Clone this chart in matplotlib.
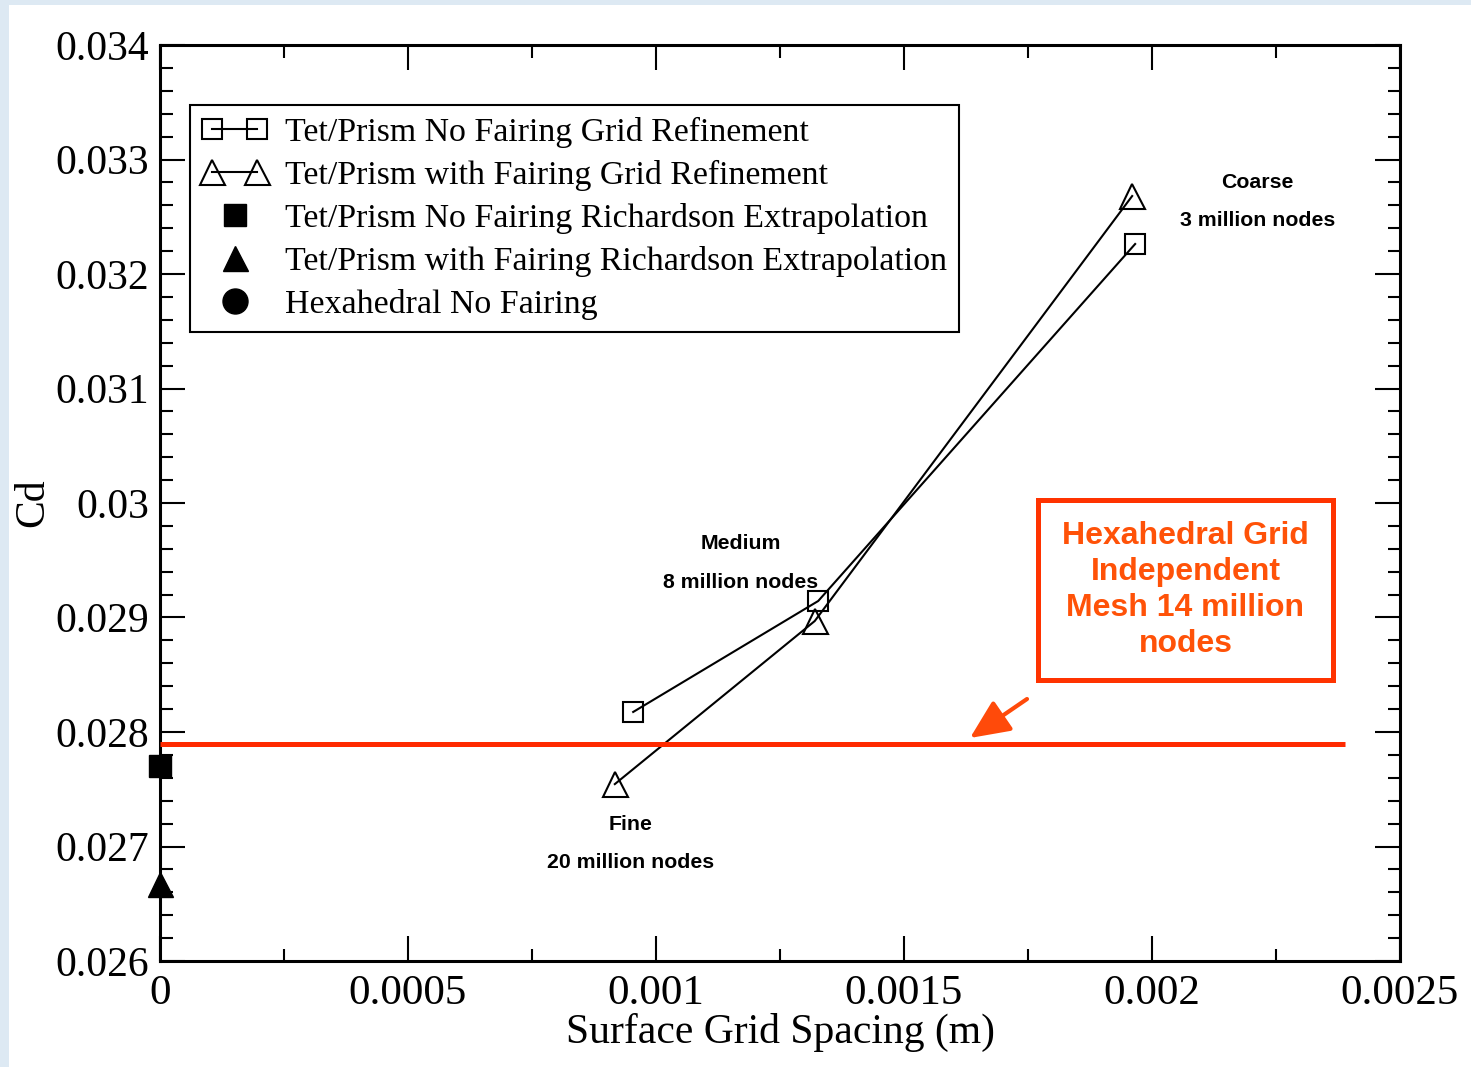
import matplotlib
matplotlib.use("Agg")
import matplotlib.pyplot as plt
from matplotlib.legend_handler import HandlerLine2D
from matplotlib.patches import Rectangle
from matplotlib.ticker import MultipleLocator

# ---- data ----
no_fairing_x = [0.000954, 0.001327, 0.001966]
no_fairing_cd = [0.028175, 0.029144, 0.032262]
with_fairing_x = [0.000917, 0.001320, 0.001960]
with_fairing_cd = [0.027545, 0.028969, 0.032681]
rich_no_fairing = (0.0, 0.02770)
rich_with_fairing = (0.0, 0.02667)
hex_cd = 0.027895
hex_x_range = [0.0, 0.002389]

series_labels = [
    "Tet/Prism No Fairing Grid Refinement",
    "Tet/Prism with Fairing Grid Refinement",
    "Tet/Prism No Fairing Richardson Extrapolation",
    "Tet/Prism with Fairing Richardson Extrapolation",
    "Hexahedral No Fairing",
]
point_notes = [
    (0.002212, 0.032795, "Coarse"),
    (0.002212, 0.032463, "3 million nodes"),
    (0.001171, 0.029642, "Medium"),
    (0.001171, 0.029310, "8 million nodes"),
    (0.000948, 0.027188, "Fine"),
    (0.000948, 0.026856, "20 million nodes"),
]
box_text = "Hexahedral Grid\nIndependent\nMesh 14 million\nnodes"
x_tick_vals = [0, 0.0005, 0.001, 0.0015, 0.002, 0.0025]
x_tick_labels = ["0", "0.0005", "0.001", "0.0015", "0.002", "0.0025"]
y_tick_vals = [0.026, 0.027, 0.028, 0.029, 0.03, 0.031, 0.032, 0.033, 0.034]
y_tick_labels = ["0.026", "0.027", "0.028", "0.029", "0.03", "0.031", "0.032", "0.033", "0.034"]

W, H = 1471, 1067
fig = plt.figure(figsize=(W / 100, H / 100), dpi=100, facecolor="#dde9f3")
fig.patches.append(Rectangle((9 / W, 0), 1, 1 - 5 / H, transform=fig.transFigure,
                             facecolor="white", edgecolor="none", zorder=-10))
ax = fig.add_axes([160 / W, 1 - 961 / H, 1240 / W, 916 / H])
ax.set_facecolor("white")

serif = "Liberation Serif"
sans = "Liberation Sans"

lw = 1.5
ms = 15
l1, = ax.plot(no_fairing_x, no_fairing_cd, color="black", lw=lw, marker="s", ms=ms,
              mfc="none", mec="black", mew=1.5, label=series_labels[0])
l2, = ax.plot(with_fairing_x, with_fairing_cd, color="black", lw=lw, marker="^", ms=ms + 3,
              mfc="none", mec="black", mew=1.5, label=series_labels[1])
l3, = ax.plot([rich_no_fairing[0]], [rich_no_fairing[1]], ls="none", marker="s", ms=ms + 1,
              color="black", clip_on=False, zorder=5, label=series_labels[2])
l4, = ax.plot([rich_with_fairing[0]], [rich_with_fairing[1]], ls="none", marker="^", ms=ms + 3,
              color="black", clip_on=False, zorder=5, label=series_labels[3])
l5, = ax.plot([], [], ls="none", marker="o", ms=ms + 3, color="black", label=series_labels[4])

ax.plot(hex_x_range, [hex_cd, hex_cd], color="#ff2a00", lw=3.6, solid_capstyle="butt", zorder=4)

ax.set_xlim(0, 0.0025)
ax.set_ylim(0.026, 0.034)
ax.xaxis.set_minor_locator(MultipleLocator(0.00025))
ax.yaxis.set_minor_locator(MultipleLocator(0.0002))
ax.set_xticks(x_tick_vals)
ax.set_xticklabels(x_tick_labels, family=serif, fontsize=31)
ax.set_yticks(y_tick_vals)
ax.set_yticklabels(y_tick_labels, family=serif, fontsize=30)
ax.tick_params(which="both", direction="in", top=True, right=True, width=1.5)
ax.tick_params(which="major", length=18)
ax.tick_params(axis="y", which="major", pad=8)
ax.tick_params(axis="x", which="major", pad=10)
ax.tick_params(which="minor", length=9)
for s in ax.spines.values():
    s.set_linewidth(2.2)

ax.set_xlabel("Surface Grid Spacing (m)", fontsize=30, family=serif, labelpad=0)
ax.set_ylabel("Cd", fontsize=30, family=serif, labelpad=2)

leg = ax.legend(handles=[l1, l2, l3, l4, l5], loc="upper left", bbox_to_anchor=(0.024, 0.935),
                prop={"family": serif, "size": 24.4}, frameon=True, fancybox=False,
                edgecolor="black", framealpha=1, borderpad=0.36, labelspacing=0.357,
                handlelength=1.93, handletextpad=0.52, borderaxespad=0,
                handler_map={l1: HandlerLine2D(numpoints=2), l2: HandlerLine2D(numpoints=2),
                             l3: HandlerLine2D(numpoints=1), l4: HandlerLine2D(numpoints=1),
                             l5: HandlerLine2D(numpoints=1)})
leg.get_frame().set_linewidth(1.5)

for x, y, t in point_notes:
    ax.text(x, y, t, ha="center", va="center", fontsize=15.3, fontweight="bold", family=sans)

# red annotation box
bx0, by0 = (1038 - 160) / 496000, 0.026 + (961 - 680) / 114500
bx1, by1 = (1333 - 160) / 496000, 0.026 + (961 - 500) / 114500
ax.add_patch(Rectangle((bx0, by0), bx1 - bx0, by1 - by0, fill=False, edgecolor="#ff3300",
                       lw=3.6, zorder=5))
ax.text((bx0 + bx1) / 2, (by0 + by1) / 2, box_text, ha="center", va="center",
        fontsize=23, fontweight="bold", family=sans, color="#ff5208", linespacing=1.27)
ax.annotate("", xy=((970 - 160) / 496000, 0.026 + (961 - 738) / 114500),
            xytext=((1027 - 160) / 496000, 0.026 + (961 - 699) / 114500),
            arrowprops=dict(arrowstyle="-|>,head_length=1.1,head_width=0.5", color="#ff4a0a",
                            lw=3, mutation_scale=22, shrinkA=0, shrinkB=0))

fig.savefig("out.png", dpi=100, facecolor=fig.get_facecolor())
